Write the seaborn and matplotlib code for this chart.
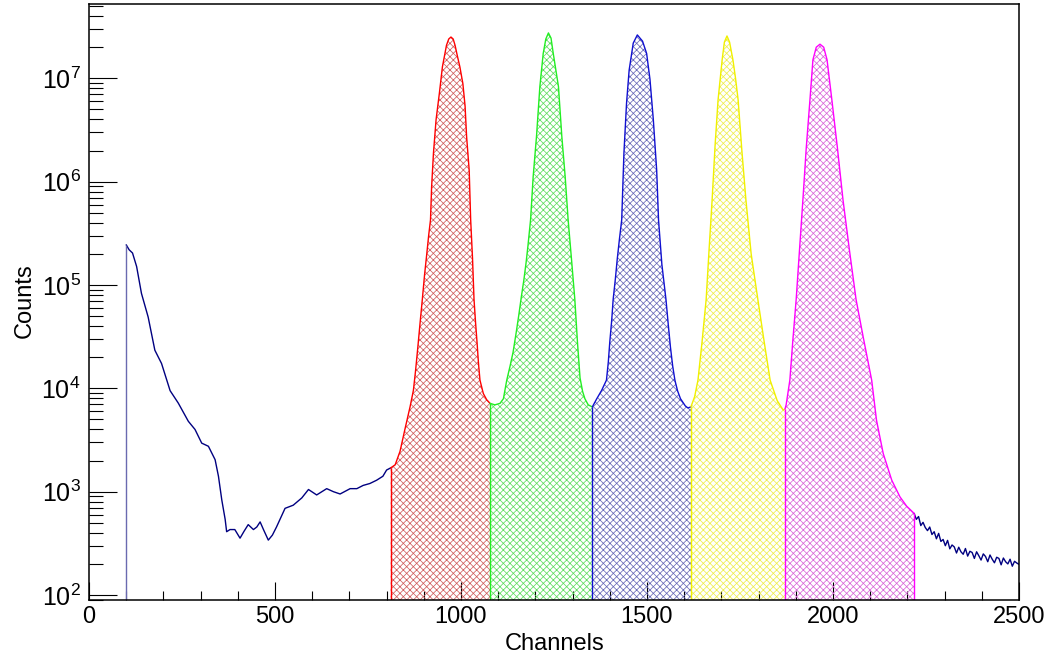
import matplotlib
matplotlib.use("Agg")
import matplotlib.pyplot as plt
import seaborn as sns
from matplotlib.ticker import LogLocator, MultipleLocator, LogFormatterMathtext, NullFormatter

# ---- data (channel, counts) ----
bg_low_ch = [100, 108, 117, 128, 141, 159, 177, 195, 218, 240, 267, 285, 303, 321, 339, 348,
             357, 366, 370, 379, 392, 406, 417, 428, 442, 451, 460, 469, 482, 493, 504, 527,
             549, 572, 590, 612, 639, 657, 675, 702, 720, 737, 755, 773, 790, 800, 811]
bg_low_counts = [2.45e5, 2.19e5, 2.04e5, 1.51e5, 8.3e4, 4.9e4, 2.34e4, 1.74e4, 9.5e3, 7.2e3,
                 4.8e3, 4.0e3, 2.95e3, 2.75e3, 2.04e3, 1.41e3, 830, 540, 410, 430, 430, 355,
                 415, 480, 430, 455, 510, 430, 340, 380, 455, 690, 740, 870, 1050, 930, 1070,
                 1000, 950, 1070, 1070, 1150, 1200, 1290, 1410, 1620, 1700]

red_ch = [811, 823, 836, 849, 863, 872, 878, 884, 890, 896, 902, 908, 913, 918, 921, 926, 933,
          942, 950, 961, 967, 973, 979, 984, 990, 997, 1005, 1011, 1015, 1022, 1026, 1031, 1035,
          1039, 1043, 1047, 1051, 1060, 1069, 1078]
red_counts = [1700, 1820, 2450, 3980, 6610, 9550, 1.5e4, 2.51e4, 4.3e4, 7.24e4, 1.25e5, 2.0e5,
              3.0e5, 4.27e5, 8.91e5, 1.9e6, 3.98e6, 7.24e6, 1.29e7, 2.09e7, 2.4e7, 2.51e7, 2.4e7,
              2.09e7, 1.66e7, 1.29e7, 8.91e6, 5.37e6, 2.75e6, 1.29e6, 4.27e5, 1.8e5, 7.24e4,
              4.4e4, 2.82e4, 1.75e4, 1.2e4, 8.91e3, 7.76e3, 7.16e3]

green_ch = [1078, 1091, 1105, 1114, 1123, 1132, 1140, 1148, 1155, 1162, 1169, 1175, 1180, 1187,
            1194, 1203, 1212, 1221, 1228, 1235, 1242, 1248, 1262, 1271, 1280, 1288, 1297, 1306,
            1313, 1320, 1327, 1333, 1342, 1353]
green_counts = [7.16e3, 6.92e3, 7.16e3, 7.94e3, 1.2e4, 1.65e4, 2.24e4, 3.4e4, 5.01e4, 7.6e4,
                1.12e5, 1.65e5, 2.4e5, 4.27e5, 1.12e6, 2.75e6, 8.32e6, 1.74e7, 2.4e7, 2.75e7,
                2.45e7, 1.74e7, 8.32e6, 2.75e6, 1.12e6, 4.27e5, 1.78e5, 7.24e4, 2.82e4, 1.26e4,
                9.3e3, 7.94e3, 6.92e3, 6.61e3]

blue_ch = [1353, 1365, 1378, 1391, 1396, 1400, 1405, 1409, 1415, 1420, 1426, 1432, 1438, 1445,
           1452, 1463, 1474, 1488, 1499, 1508, 1517, 1526, 1531, 1540, 1551, 1557, 1563, 1569,
           1575, 1582, 1590, 1603, 1610, 1618]
blue_counts = [6.61e3, 7.94e3, 9.55e3, 1.2e4, 1.8e4, 2.82e4, 4.5e4, 7.24e4, 1.15e5, 1.78e5,
               2.8e5, 4.27e5, 1.9e6, 5.75e6, 1.2e7, 2.19e7, 2.63e7, 2.29e7, 1.74e7, 9.77e6,
               3.98e6, 1.29e6, 4.27e5, 1.58e5, 7.24e4, 4.2e4, 2.51e4, 1.65e4, 1.2e4, 9.5e3,
               7.94e3, 6.76e3, 6.46e3, 6.61e3]

yellow_ch = [1618, 1628, 1637, 1648, 1659, 1667, 1675, 1683, 1691, 1702, 1708, 1715, 1722, 1731,
             1738, 1745, 1755, 1766, 1780, 1798, 1815, 1831, 1850, 1866, 1871]
yellow_counts = [6.61e3, 8.3e3, 1.2e4, 2.82e4, 7.24e4, 2.24e5, 6.61e5, 2.24e6, 6.17e6, 1.51e7,
                 2.24e7, 2.57e7, 2.24e7, 1.51e7, 1.0e7, 6.17e6, 2.0e6, 6.61e5, 2.0e5, 7.24e4,
                 2.82e4, 1.2e4, 7.6e3, 6.17e3, 6.31e3]

magenta_ch = [1871, 1874, 1884, 1892, 1901, 1910, 1919, 1928, 1938, 1946, 1955, 1965, 1975, 1984,
              1997, 2012, 2027, 2044, 2062, 2083, 2104, 2117, 2135, 2158, 2180, 2198, 2218]
magenta_counts = [6.31e3, 6.92e3, 1.2e4, 2.9e4, 7.24e4, 2.2e5, 6.61e5, 2.1e6, 6.17e6, 1.51e7,
                  2.0e7, 2.14e7, 2.0e7, 1.51e7, 6.17e6, 2.1e6, 6.61e5, 2.2e5, 7.24e4, 2.9e4,
                  1.2e4, 4.9e3, 2.34e3, 1.29e3, 891, 724, 617]

bg_high_ch = [2218, 2224, 2230, 2236, 2242, 2248, 2254, 2260, 2266, 2272, 2278, 2284, 2290, 2296,
              2302, 2308, 2314, 2320, 2326, 2332, 2338, 2344, 2350, 2356, 2362, 2368, 2374, 2380,
              2386, 2392, 2398, 2404, 2410, 2416, 2422, 2428, 2434, 2440, 2446, 2452, 2458, 2464,
              2470, 2476, 2482, 2488, 2494, 2500]
bg_high_counts = [617, 540, 575, 470, 505, 450, 420, 455, 385, 410, 350, 395, 330, 345, 300, 338,
                  280, 305, 292, 255, 290, 262, 248, 282, 238, 265, 258, 226, 262, 240, 218, 250,
                  236, 210, 244, 222, 205, 232, 226, 196, 228, 210, 200, 222, 190, 212, 204, 198]

peaks = [
    (red_ch, red_counts, "#ff0000", "#d06060"),
    (green_ch, green_counts, "#22ee22", "#60dd60"),
    (blue_ch, blue_counts, "#1010d0", "#6a6ab8"),
    (yellow_ch, yellow_counts, "#f0f000", "#eeee50"),
    (magenta_ch, magenta_counts, "#ff00ff", "#d868d8"),
]

Y_MIN, Y_MAX = 89.5, 5.24e7
NAVY = "#000080"

sns.set_theme(style="white")
plt.rcParams['font.family'] = ['Liberation Sans', 'DejaVu Sans']
plt.rcParams['mathtext.fontset'] = 'custom'
plt.rcParams['mathtext.rm'] = 'Liberation Sans'
plt.rcParams['hatch.linewidth'] = 0.55

fig = plt.figure(figsize=(10.5, 6.57), dpi=100)
ax = fig.add_axes([89 / 1050, 57 / 657, 930 / 1050, 596 / 657])

# background spectrum
sns.lineplot(x=bg_low_ch, y=bg_low_counts, ax=ax, color=NAVY, linewidth=1.0, estimator=None)
sns.lineplot(x=bg_high_ch, y=bg_high_counts, ax=ax, color=NAVY, linewidth=1.0, estimator=None)
ax.vlines(bg_low_ch[0], Y_MIN, bg_low_counts[0], color="#6a6ab0", linewidth=1.0)

# hatched peak regions
for ch, counts, line_col, hatch_col in peaks:
    ax.fill_between(ch, Y_MIN, counts, facecolor="none", edgecolor=hatch_col,
                    hatch="xxxxx", linewidth=0)
    sns.lineplot(x=ch, y=counts, ax=ax, color=line_col, linewidth=1.0, estimator=None)
    ax.vlines(ch[0], Y_MIN, counts[0], color=line_col, linewidth=1.0)
ax.vlines(magenta_ch[-1], Y_MIN, magenta_counts[-1], color="#ff00ff", linewidth=1.0)

ax.set_yscale("log")
ax.set_xlim(0, 2500)
ax.set_ylim(Y_MIN, Y_MAX)

ax.xaxis.set_major_locator(MultipleLocator(500))
ax.xaxis.set_minor_locator(MultipleLocator(100))
ax.yaxis.set_major_locator(LogLocator(base=10, numticks=20))
ax.yaxis.set_minor_locator(LogLocator(base=10, subs=range(2, 10), numticks=100))
ax.yaxis.set_major_formatter(LogFormatterMathtext())
ax.yaxis.set_minor_formatter(NullFormatter())

ax.tick_params(axis="y", which="major", direction="in", length=20, width=0.8,
               left=True, right=False, pad=6, labelsize=18, colors="black")
ax.tick_params(axis="y", which="minor", direction="in", length=10, width=0.8,
               left=True, right=False, colors="black")
ax.tick_params(axis="x", which="major", direction="in", length=13, width=0.8,
               bottom=True, top=False, pad=4, labelsize=17, colors="black")
ax.tick_params(axis="x", which="minor", direction="in", length=6.5, width=0.8,
               bottom=True, top=False, colors="black")

for sp in ax.spines.values():
    sp.set_color("black")
    sp.set_linewidth(1.1)

ax.set_xlabel("Channels", fontsize=17, color="black")
ax.set_ylabel("Counts", fontsize=17, color="black")
ax.xaxis.set_label_coords(0.501, -0.055)
ax.yaxis.set_label_coords(-0.057, 0.503)

fig.savefig("out.png", dpi=100)
